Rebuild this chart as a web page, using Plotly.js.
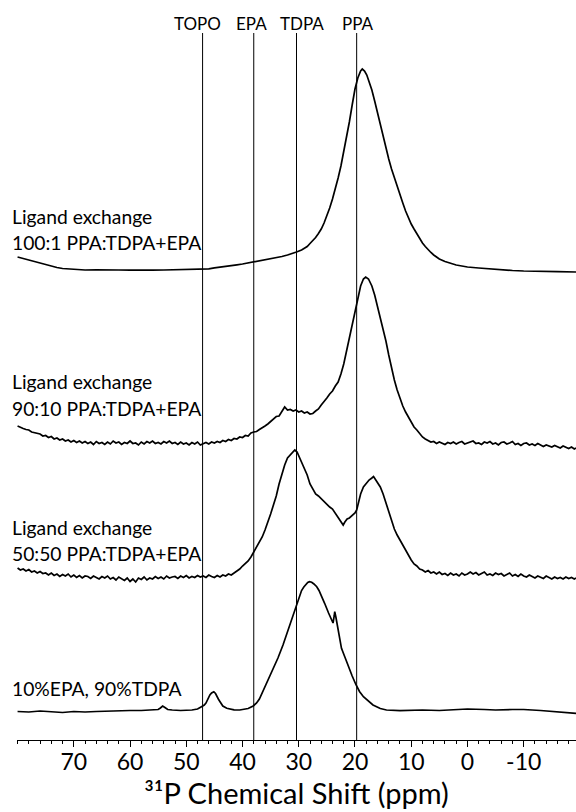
<!DOCTYPE html>
<html>
<head>
<meta charset="utf-8">
<script src="https://cdn.plot.ly/plotly-3.0.1.min.js"></script>
<style>
  html, body { margin: 0; padding: 0; background: #fff; }
  #chart { width: 576px; height: 812px; }
</style>
</head>
<body>
<div id="chart"></div>
<script>
// 31P solid-state NMR spectra, stacked. Each spectrum: [ppm, intensity] pairs (a.u.).
const spectrumNames = [
  "Ligand exchange 100:1 PPA:TDPA+EPA",
  "Ligand exchange 90:10 PPA:TDPA+EPA",
  "Ligand exchange 50:50 PPA:TDPA+EPA",
  "10%EPA, 90%TDPA"
];

// Vertical stacking offset of each spectrum (a.u.)
const stackOffsets = [468, 296, 164, 28];

const spec100 = [
  [80,15],[79,13.5],[78,12],[77,10.5],[76,8.5],[75,7],[74,6],[73,4.5],[72,3.5],[71,3],
  [70,2.5],[68,2],[66,2.2],[64,1.8],[62,2],[60,1.8],[58,2.2],[56,1.9],[54,2],[52,2.4],
  [50,2.2],[48,2.8],[47,3.5],[46,3.2],[45,4.2],[44,4.8],[43,5.5],[42,6.5],[41,7.2],[40,8],
  [39,9],[38,10],[37,11],[36,12.3],[35,13],[34,14.3],[33,15.5],[32,17],[31,18.5],[30.4,20],
  [29.5,22],[28.5,25.5],[28,28.5],[27.5,31],[27,34.5],[26.5,38.5],[26,43],[25.5,49],[25,56],
  [24.5,64],[24,73],[23.5,83],[23,94],[22.5,106],[22,120],[21.5,135],[21,150],[20.5,167],
  [20,183],[19.5,194],[19,201],[18.7,203],[18.3,201],[17.9,197],[17.5,191],[17,182],
  [16.5,171],[16,159],[15.5,146],[15,134],[14.5,123],[14,113],[13.5,103],[13,94],[12.5,85],
  [12,77],[11.5,69],[11,61],[10.5,54],[10,48],[9.5,43],[9,38],[8.5,33],[8,29],[7.5,25.5],
  [7,22],[6.5,19.5],[6,17],[5.5,15],[5,13],[4,10.5],[3,8.5],[2,7],[1,6],[0,5],[-2,4],
  [-4,3],[-6,2.5],[-8,1.5],[-10,1],[-12,1],[-14,0.5],[-16,0.3],[-19.3,0]
];

const spec90 = [
  [80,18],[79.5,16.5],[79,15.5],[78.5,14.5],[78,14],[77.5,12],[77,11.5],[76.5,10.5],[76,10],
  [75.5,8],[75,8.5],[74.5,6.5],[74,7.5],[73.5,5],[73,6],[72.5,4],[72,5],[71.5,3],[71,4],
  [70.5,2],[70,3.5],[69.5,1.5],[69,3],[68.5,1],[68,2.5],[67.5,0.5],[67,2],[66.5,-0.5],
  [66,2.5],[65.5,0.5],[65,1.5],[64.5,-0.5],[64,2],[63.5,0],[63,3],[62.5,1],[62,2],
  [61.5,-0.5],[61,1.5],[60.5,0.5],[60,3],[59.5,0.5],[59,1],[58.5,-1],[58,2],[57.5,0],
  [57,2.5],[56.5,1],[56,3],[55.5,0.5],[55,1.5],[54.5,0],[54,2.5],[53.5,1],[53,3],[52.5,0.5],
  [52,1.5],[51.5,-0.5],[51,2],[50.5,0],[50,1],[49.5,-1],[49,1.5],[48.5,0],[48,2],[47.5,-1],
  [47,0.5],[46.5,1.5],[46,0],[45.5,2],[45,1],[44.5,2.5],[44,1.5],[43.5,3.5],[43,2.5],
  [42.5,4.5],[42,3.5],[41.5,5.5],[41,5],[40.5,7],[40,6.5],[39.5,8.5],[39,8],[38.5,11],
  [38,12],[37.5,12.5],[37,14.5],[36.5,16],[36,18],[35.5,20],[35,22.5],[34.5,24],[34,27.5],
  [33.5,28],[33,33],[32.5,37],[32,34],[31.5,34.5],[31,33],[30.5,34],[30,32],[29.5,33],
  [29,31],[28.5,32],[28,30],[27.5,30.5],[27,33],[26.5,35],[26,39],[25.5,42],[25,46],
  [24.5,50],[24,53],[23.5,58],[23,62],[22.5,70],[22,80],[21.5,93],[21,106],[20.5,120],
  [20,133],[19.5,147],[19,158],[18.5,165],[18.1,167],[17.6,165],[17,158],[16.5,149],
  [16,138],[15.5,128],[15,116],[14.5,103],[14,89],[13.5,76],[13,64],[12.5,54],[12,45],
  [11.5,38],[11,32],[10.5,27],[10,22],[9.5,17],[9,14],[8.5,10],[8,7],[7.5,5],[7,3.5],
  [6.5,2],[6,2.5],[5.5,0.5],[5,2],[4.5,1],[4,-0.5],[3.5,1.5],[3,0.5],[2.5,2],[2,0],
  [1.5,1.5],[1,2.5],[0.5,0],[0,1],[-0.5,2.5],[-1,3],[-1.5,0.5],[-2,1],[-2.5,-0.5],[-3,2],
  [-3.5,1],[-4,2.5],[-4.5,0],[-5,1],[-5.5,-1],[-6,1.5],[-6.5,2],[-7,0],[-7.5,1],[-8,2.5],
  [-8.5,-0.5],[-9,0.5],[-9.5,-1.5],[-10,0.5],[-10.5,1],[-11,-1],[-11.5,0],[-12,-1.5],
  [-12.5,0.5],[-13,-1],[-13.5,-2.5],[-14,-1],[-14.5,-2],[-15,-3],[-15.5,-1.5],[-16,-2.5],
  [-16.5,-4],[-17,-2],[-17.5,-3.5],[-18,-4.5],[-18.5,-3],[-19,-5],[-19.3,-4]
];

const spec50 = [
  [80,8],[79.5,6],[79,7],[78.5,5],[78,6.5],[77.5,4],[77,5],[76.5,3],[76,4.5],[75.5,2.5],
  [75,3],[74.5,1],[74,3],[73.5,0.5],[73,2],[72.5,-0.5],[72,1.5],[71.5,0],[71,2],[70.5,-1],
  [70,1],[69.5,-1.5],[69,0.5],[68.5,-2],[68,0],[67.5,-0.5],[67,-2.5],[66.5,0],[66,-1.5],
  [65.5,-3],[65,-0.5],[64.5,-2],[64,0],[63.5,-3],[63,-1.5],[62.5,-4],[62,-1],[61.5,-2.5],
  [61,-4.5],[60.5,-2],[60,-5.5],[59.5,-3],[59,-6],[58.5,-2],[58,-3.5],[57.5,-1],[57,-4],
  [56.5,-2],[56,-3],[55.5,-0.5],[55,-2.5],[54.5,-1],[54,-3],[53.5,0],[53,-2],[52.5,-1],
  [52,-0.5],[51.5,-2.5],[51,0],[50.5,-1.5],[50,0.5],[49.5,-2],[49,-0.5],[48.5,-1.5],
  [48,0.5],[47.5,-1],[47,0],[46.5,-1.5],[46,1],[45.5,-0.5],[45,-1.5],[44.5,0.5],[44,-1],
  [43.5,1],[43,0],[42.5,2],[42,1],[41.5,3],[41,5],[40.5,7],[40,10],[39.5,12.5],[39,15],
  [38.5,19],[38,24],[37.5,28],[37,33],[36.5,39],[36,46],[35.5,53],[35,62],[34.5,71],
  [34,80],[33.5,92],[33,102],[32.5,111],[32,118],[31.5,121],[31,125],[30.7,126],[30.3,124],
  [30,120],[29.5,115],[29,108],[28.5,101],[28,92],[27.5,87],[27,82],[26.5,80],[26,77],
  [25.5,75],[25,72],[24.5,69],[24,67],[23.5,63],[23,59],[22.5,55],[22.1,51],[21.8,54],
  [21.4,57],[21,58],[20.5,61],[20,63],[19.7,66],[19.3,74],[19,82],[18.5,89],[18,93],
  [17.5,96],[17,98],[16.7,99.5],[16.3,96],[16,93],[15.5,89],[15,82],[14.5,73],[14,64],
  [13.5,55],[13,47],[12.5,41],[12,36],[11.5,30],[11,25],[10.5,20],[10,16],[9.5,12],[9,10],
  [8.5,7],[8,6],[7.5,4],[7,5.5],[6.5,3],[6,4],[5.5,2],[5,4],[4.5,1.5],[4,2.5],[3.5,0.5],
  [3,3],[2.5,1],[2,2],[1.5,0],[1,3],[0.5,1],[0,2],[-0.5,4],[-1,2],[-1.5,3.5],[-2,1],
  [-2.5,2.5],[-3,4],[-3.5,1],[-4,2],[-4.5,0.5],[-5,3],[-5.5,1.5],[-6,2.5],[-6.5,0],[-7,1.5],
  [-7.5,3],[-8,0],[-8.5,1.5],[-9,-0.5],[-9.5,2],[-10,0],[-10.5,-1],[-11,1],[-11.5,-0.5],
  [-12,-2],[-12.5,0],[-13,-1],[-13.5,-2.5],[-14,0],[-14.5,-1.5],[-15,-3],[-15.5,-1],
  [-16,-2.5],[-16.5,-1.5],[-17,-3],[-17.5,-1],[-18,-2.5],[-18.5,-1.5],[-19,-3],[-19.3,-2]
];

const specRef = [
  [80,0.5],[78,0],[76,1],[74,0.5],[72,-0.5],[70,0.5],[68,0],[66,0.5],[64,1],[62,1],[60,1.5],
  [58,1.5],[57,2],[55,2.5],[54.6,4],[54.2,6],[53.8,4.5],[53.3,2.5],[52.5,2],[51,1.5],[49,2],
  [48,3],[47.3,5.3],[46.8,7],[46.5,9],[46.1,13.7],[45.8,17],[45.5,19],[45.1,20.3],[44.8,18.5],
  [44.6,16],[44.3,13],[44,10.3],[43.5,6],[42.8,3.7],[41.5,2.2],[40.5,2],[39.5,2.8],[39,3.5],
  [38.1,6],[37.5,9],[37,13],[36.3,22],[35.5,31],[34.6,42],[33.7,54],[32.8,67],[31.9,82],
  [31,98.7],[30.6,105.5],[30.2,112],[29.8,117],[29.5,121.5],[29.1,125],[28.8,127.5],
  [28.4,129.5],[28.1,130.3],[27.7,129.7],[27.3,128],[26.8,125.3],[26.4,121.5],[26,117],
  [25.4,108.7],[24.7,99],[24.3,93],[24.1,90],[23.9,89],[23.7,96],[23.6,100.3],[23.4,95],
  [23.3,92],[23,82],[22.7,72],[22.4,63.7],[21.8,55],[21.2,45.3],[20.5,36],[19.8,27],
  [19.2,20.5],[18.5,15.3],[17.6,10.5],[16.8,7],[15.5,3.5],[14.4,2],[12,1.3],[10,2],[8,2],
  [5,1.5],[2,2.5],[0,3],[-3,2.5],[-5,2],[-8,2.5],[-10,2.5],[-13,1.5],[-15,0.5],[-17,0],
  [-19.3,-1.3]
];

const spectra = [spec100, spec90, spec50, specRef];

// Reference chemical-shift markers
const markerNames = ["TOPO", "EPA", "TDPA", "PPA"];
const markerShifts = [47.1, 38.0, 30.4, 19.7];
const markerLabelShift = [-5, -2, 5, 1];

// Axis ticks
const tickValues = [70, 60, 50, 40, 30, 20, 10, 0, -10];
const tickLabels = ["70", "60", "50", "40", "30", "20", "10", "0", "-10"];

const FONT = "Lato, 'Open Sans', sans-serif";
const markerTop = 707;

const traces = spectra.map((s, i) => ({
  type: "scatter",
  mode: "lines",
  name: spectrumNames[i],
  x: s.map(p => p[0]),
  y: s.map(p => p[1] + stackOffsets[i]),
  line: { color: "#000", width: 1.7 },
  hoverinfo: "skip"
}));

const shapes = markerShifts.map(v => ({
  type: "line", xref: "x", yref: "y",
  x0: v, x1: v, y0: 0, y1: markerTop,
  line: { color: "#000", width: 1 },
  layer: "below"
}));

const annotations = [];
markerNames.forEach((n, i) => {
  annotations.push({
    text: n, xref: "x", yref: "y", x: markerShifts[i], y: markerTop + 10,
    xshift: markerLabelShift[i],
    xanchor: "center", yanchor: "middle", showarrow: false,
    font: { family: FONT, size: 17, color: "#000" }
  });
});

// Sample labels, two lines each (last one is single-line)
const labelLines = [
  ["Ligand exchange", "100:1 PPA:TDPA+EPA"],
  ["Ligand exchange", "90:10 PPA:TDPA+EPA"],
  ["Ligand exchange", "50:50 PPA:TDPA+EPA"],
  ["10%EPA, 90%TDPA"]
];
const labelY = [[524, 498], [359, 332], [213, 187], [52]];
labelLines.forEach((lines, i) => {
  lines.forEach((t, j) => {
    annotations.push({
      text: t, xref: "paper", yref: "y", x: -0.013, y: labelY[i][j],
      xanchor: "left", yanchor: "middle", showarrow: false,
      font: { family: FONT, size: 19.3, color: "#000" }
    });
  });
});

const layout = {
  width: 576, height: 812,
  margin: { l: 17, r: 0, t: 0, b: 72 },
  paper_bgcolor: "#fff", plot_bgcolor: "#fff",
  showlegend: false,
  xaxis: {
    range: [80.1, -19.3],
    showgrid: false, zeroline: false,
    showline: true, linecolor: "#000", linewidth: 1.2,
    ticks: "outside", ticklen: 6, tickwidth: 1, tickcolor: "#000",
    tickvals: tickValues, ticktext: tickLabels,
    ticklabelstandoff: -5,
    tickfont: { family: FONT, size: 23, color: "#000" },
    minor: { dtick: 2, ticks: "outside", ticklen: 3, tickwidth: 1, tickcolor: "#000" },
    title: { text: "³¹P Chemical Shift (ppm)", standoff: 2,
             font: { family: FONT, size: 29, color: "#000" } }
  },
  yaxis: {
    range: [0, 740], visible: false, showgrid: false, zeroline: false, fixedrange: true
  },
  shapes: shapes,
  annotations: annotations
};

Plotly.newPlot("chart", traces, layout, { displayModeBar: false, staticPlot: true });
</script>
</body>
</html>
